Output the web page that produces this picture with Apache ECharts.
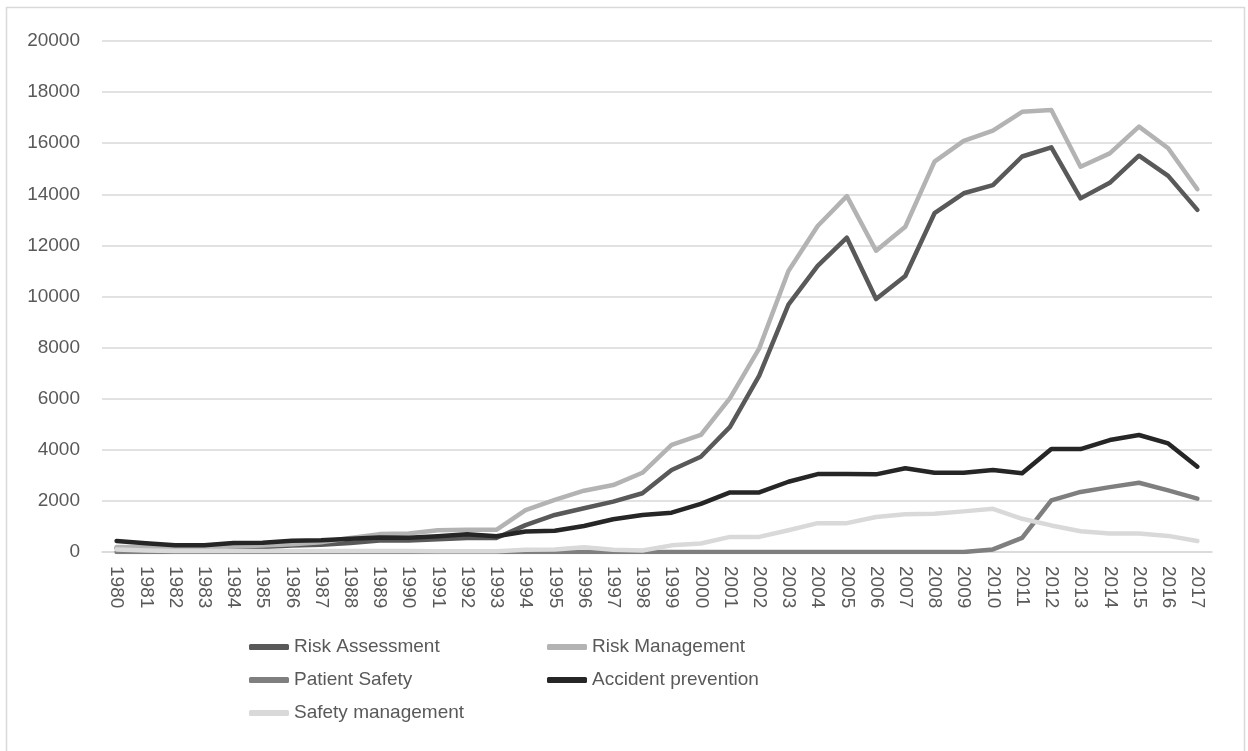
<!DOCTYPE html>
<html>
<head>
<meta charset="utf-8">
<style>
  html, body { margin: 0; padding: 0; background: #fff; }
  #chart { width: 1248px; height: 751px; }
</style>
<script src="https://cdn.jsdelivr.net/npm/echarts@6/dist/echarts.min.js"></script>
</head>
<body>
<div id="chart"></div>
<script>
// 年份 1980 - 2017
const years = [];
for (let y = 1980; y <= 2017; y++) years.push(String(y));

const riskAssessment = [150, 150, 150, 150, 200, 200, 250, 280, 350, 450, 450, 500, 550, 550,
    1050, 1450, 1710, 1970, 2300, 3210, 3730, 4900, 6900, 9680, 11200, 12300,
    9900, 10800, 13260, 14040, 14360, 15480, 15840, 13840, 14450, 15510, 14720, 13390];
const riskManagement = [200, 200, 180, 180, 220, 250, 300, 380, 550, 700, 720, 850, 870, 870,
    1640, 2040, 2400, 2620, 3100, 4190, 4580, 6020, 7970, 11000, 12760, 13930,
    11790, 12730, 15280, 16090, 16490, 17230, 17300, 15080, 15600, 16650, 15800, 14200];
const patientSafety = [0, 0, 0, 0, 0, 0, 0, 0, 0, 0, 0, 0, 0, 0,
    0, 0, 0, 0, 0, 0, 0, 0, 0, 0, 0, 0,
    0, 0, 0, 0, 100, 550, 2020, 2350, 2540, 2710, 2410, 2090];
const accidentPrevention = [430, 340, 262, 262, 350, 360, 440, 460, 520, 570, 560, 620, 690, 620,
    800, 830, 1020, 1280, 1450, 1540, 1880, 2330, 2330, 2750, 3050, 3050,
    3040, 3280, 3100, 3100, 3210, 3080, 4030, 4030, 4380, 4580, 4250, 3340];
const safetyManagement = [100, 60, 40, 40, 40, 40, 40, 40, 40, 40, 40, 30, 30, 30,
    90, 100, 190, 90, 60, 260, 330, 590, 590, 850, 1130, 1130,
    1370, 1480, 1500, 1590, 1690, 1300, 1040, 810, 720, 720, 630, 430];

const seriesNames = ['Risk Assessment', 'Risk Management', 'Patient Safety', 'Accident prevention', 'Safety management'];
const seriesColors = ['#595959', '#b3b3b3', '#7f7f7f', '#262626', '#d9d9d9'];
const seriesData = [riskAssessment, riskManagement, patientSafety, accidentPrevention, safetyManagement];

const baseFont = "'Liberation Sans', Arial, sans-serif";

let legendBase = {
    orient: 'vertical',
    top: 635,
    padding: 0,
    icon: 'roundRect',
    itemWidth: 40,
    itemHeight: 6,
    itemGap: 9,
    textStyle: {
        color: '#595959',
        fontSize: 19,
        lineHeight: 24,
        fontFamily: baseFont
    }
};

let option = {
    animation: false,
    backgroundColor: '#fff',
    graphic: [{
        type: 'rect',
        shape: { x: 6.5, y: 7.5, width: 1238, height: 780 },
        style: { fill: 'none', stroke: '#d9d9d9', lineWidth: 1.5 },
        silent: true
    }],
    grid: { left: 102, right: 36, top: 41, bottom: 199 },
    legend: [
        Object.assign({}, legendBase, { left: 249, data: [seriesNames[0], seriesNames[2], seriesNames[4]] }),
        Object.assign({}, legendBase, { left: 547, data: [seriesNames[1], seriesNames[3]] })
    ],
    xAxis: {
        type: 'category',
        data: years,
        boundaryGap: true,
        axisTick: { show: false },
        axisLine: { lineStyle: { color: '#d9d9d9', width: 1.5 } },
        axisLabel: {
            rotate: -90,
            interval: 0,
            margin: 14,
            color: '#595959',
            fontSize: 19,
            fontFamily: baseFont
        }
    },
    yAxis: {
        type: 'value',
        min: 0,
        max: 20000,
        interval: 2000,
        axisLine: { show: false },
        axisTick: { show: false },
        splitLine: { lineStyle: { color: '#d9d9d9', width: 1.5 } },
        axisLabel: {
            margin: 22,
            color: '#595959',
            fontSize: 19,
            fontFamily: baseFont,
            formatter: v => String(v)
        }
    },
    series: seriesNames.map((name, i) => ({
        name: name,
        type: 'line',
        data: seriesData[i],
        symbol: 'none',
        smooth: false,
        color: seriesColors[i],
        lineStyle: { width: 4.5, color: seriesColors[i], cap: 'round', join: 'round' }
    }))
};

let chart = echarts.init(document.getElementById('chart'));
chart.setOption(option);
</script>
</body>
</html>
